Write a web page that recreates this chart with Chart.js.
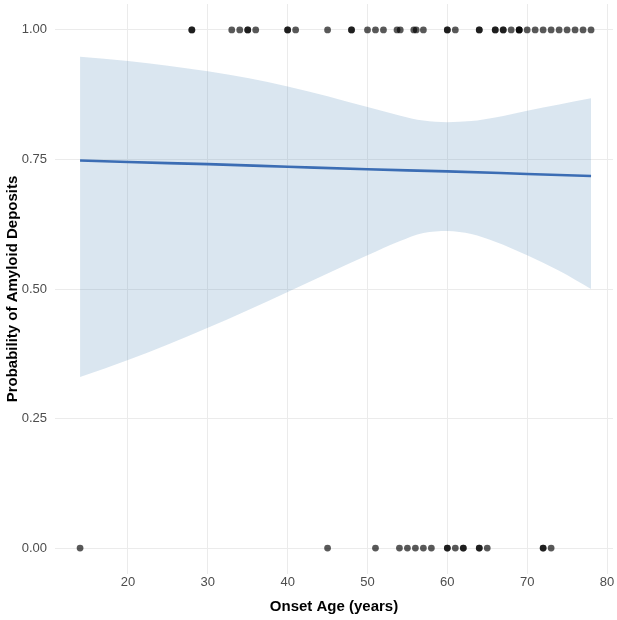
<!DOCTYPE html>
<html>
<head>
<meta charset="utf-8">
<script src="https://cdn.jsdelivr.net/npm/chart.js@4"></script>
<style>
  html, body { margin: 0; padding: 0; background: #fff; }
  #wrap { width: 617px; height: 620px; }
</style>
</head>
<body>
<div id="wrap"><canvas id="amyloidChart" width="617" height="620"></canvas></div>
<script>
// observed onset ages (duplicates = overlapping points)
const agesPositive = [28, 28, 33, 34, 35, 35, 36, 40, 40, 41, 45, 48, 48, 50, 51, 52, 53.7, 54.1, 55.8, 56.1, 57,
  60, 60, 61, 64, 64, 66, 66, 67, 67, 68, 69, 69, 69, 70, 71, 72, 73, 74, 75, 76, 77, 78];
const agesNegative = [14, 45, 51, 54, 55, 56, 57, 58, 60, 60, 61, 62, 62, 64, 64, 65, 72, 72, 73];

// fitted probability
const fitAges = [14, 20, 30, 40, 50, 60, 70, 78];
const fitProb = [0.748, 0.745, 0.741, 0.736, 0.731, 0.727, 0.722, 0.718];

// confidence band
const bandAges = [14, 20, 25, 30, 35, 40, 45, 50, 54, 57, 60, 63, 66, 70, 74, 78];
const bandUpper = [0.948, 0.940, 0.931, 0.920, 0.907, 0.891, 0.872, 0.851, 0.835, 0.825, 0.822, 0.824, 0.831, 0.844, 0.856, 0.868];
const bandLower = [0.330, 0.363, 0.393, 0.425, 0.459, 0.494, 0.530, 0.565, 0.592, 0.608, 0.612, 0.606, 0.591, 0.565, 0.535, 0.500];

const xTicks = [20, 30, 40, 50, 60, 70, 80];
const yTicks = [0, 0.25, 0.5, 0.75, 1];

const toPts = (xs, ys) => xs.map((x, i) => ({ x: x, y: ys[i] }));
const scatterPts = agesPositive.map(a => ({ x: a, y: 1 })).concat(agesNegative.map(a => ({ x: a, y: 0 })));

const tickFont = { family: "'Liberation Sans', Arial, sans-serif", size: 13 };
const titleFont = { family: "'Liberation Sans', Arial, sans-serif", size: 15, weight: 'bold' };

const ctx = document.getElementById('amyloidChart').getContext('2d');

new Chart(ctx, {
  type: 'scatter',
  data: {
    datasets: [
      {
        label: 'upper',
        data: toPts(bandAges, bandUpper),
        showLine: true,
        borderWidth: 0,
        pointRadius: 0,
        cubicInterpolationMode: 'monotone',
        backgroundColor: 'rgba(70, 130, 180, 0.2)',
        fill: '+1',
        order: 3
      },
      {
        label: 'lower',
        data: toPts(bandAges, bandLower),
        showLine: true,
        borderWidth: 0,
        pointRadius: 0,
        cubicInterpolationMode: 'monotone',
        fill: false,
        order: 3
      },
      {
        label: 'fit',
        data: toPts(fitAges, fitProb),
        showLine: true,
        borderColor: '#3b6db4',
        borderWidth: 2.6,
        pointRadius: 0,
        cubicInterpolationMode: 'monotone',
        fill: false,
        order: 2
      },
      {
        label: 'observed',
        data: scatterPts,
        pointRadius: 3.4,
        pointBorderWidth: 0,
        backgroundColor: 'rgba(0, 0, 0, 0.65)',
        order: 1
      }
    ]
  },
  options: {
    responsive: false,
    animation: false,
    layout: { padding: { top: 3, right: 0, bottom: 4, left: 0 } },
    plugins: {
      legend: { display: false },
      tooltip: { enabled: false }
    },
    scales: {
      x: {
        type: 'linear',
        min: 10.86,
        max: 80.75,
        border: { display: false },
        grid: { color: '#ebebeb', lineWidth: 1, drawTicks: false },
        afterBuildTicks: s => { s.ticks = xTicks.map(v => ({ value: v })); },
        afterFit: s => { s.height = 42; s.paddingLeft = 0; s.paddingRight = 0; },
        ticks: { font: tickFont, color: '#4d4d4d', padding: 1, maxRotation: 0, callback: v => v },
        title: { display: true, text: 'Onset Age (years)', font: titleFont, color: '#000', padding: { top: 2, bottom: 0 } }
      },
      y: {
        type: 'linear',
        min: -0.05,
        max: 1.05,
        border: { display: false },
        grid: { color: '#ebebeb', lineWidth: 1, drawTicks: false },
        afterBuildTicks: s => { s.ticks = yTicks.map(v => ({ value: v })); },
        afterFit: s => { s.width = 55; s.paddingTop = 0; s.paddingBottom = 0; },
        ticks: { font: tickFont, color: '#4d4d4d', padding: 8, callback: v => v.toFixed(2) },
        title: { display: true, text: 'Probability of Amyloid Deposits', font: titleFont, color: '#000', padding: { top: 4, bottom: 0 } }
      }
    }
  }
});
</script>
</body>
</html>
